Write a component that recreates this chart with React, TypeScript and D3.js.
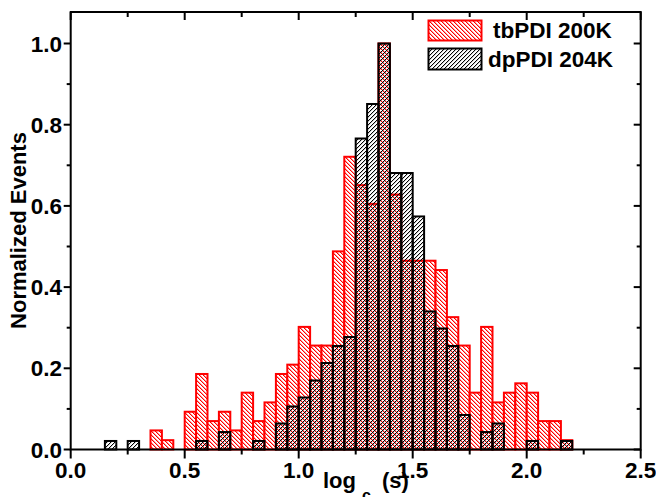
import React, { useEffect } from "react";
import * as d3 from "d3";

// Bin left edges (bin width 0.05) of log tau_c (s)
const BIN_LEFT = [
  0.15, 0.2, 0.25, 0.3, 0.35, 0.4, 0.45, 0.5, 0.55, 0.6, 0.65, 0.7, 0.75, 0.8,
  0.85, 0.9, 0.95, 1.0, 1.05, 1.1, 1.15, 1.2, 1.25, 1.3, 1.35, 1.4, 1.45, 1.5,
  1.55, 1.6, 1.65, 1.7, 1.75, 1.8, 1.85, 1.9, 1.95, 2.0, 2.05, 2.1, 2.15,
];
const BIN_WIDTH = 0.05;

// tbPDI 200K (red)
const RED_VALUES = [
  0, 0, 0, 0, 0.047, 0.023, 0, 0.093, 0.186, 0.07, 0.093, 0.047, 0.14, 0.07,
  0.116, 0.186, 0.209, 0.302, 0.256, 0.256, 0.488, 0.721, 0.651, 0.605, 1.0,
  0.628, 0.465, 0.465, 0.465, 0.442, 0.326, 0.256, 0.14, 0.302, 0.116, 0.14,
  0.163, 0.14, 0.07, 0.07, 0.023,
];
// dpPDI 204K (black)
const BLACK_VALUES = [
  0.021, 0, 0.021, 0, 0, 0, 0, 0, 0.021, 0, 0.043, 0, 0, 0.021, 0, 0.064,
  0.106, 0.128, 0.17, 0.213, 0.255, 0.277, 0.766, 0.851, 1.0, 0.681, 0.681,
  0.574, 0.34, 0.298, 0.255, 0.085, 0, 0.043, 0.064, 0, 0, 0.021, 0, 0, 0.021,
];

const SERIES_NAMES = ["tbPDI 200K", "dpPDI 204K"];
const X_TICKS = [0, 0.5, 1.0, 1.5, 2.0, 2.5];
const X_MINOR = [0.25, 0.75, 1.25, 1.75, 2.25];
const Y_TICKS = [0, 0.2, 0.4, 0.6, 0.8, 1.0];
const Y_MINOR = [0.1, 0.3, 0.5, 0.7, 0.9];

const W = 656;
const H = 497;
const FONT = "'Liberation Sans', Arial, Helvetica, sans-serif";

// pixel cells of a 4x4 hatch tile
const TILE = [0, 1, 2, 3];

export default function App() {
  useEffect(() => {
    document.body.style.margin = "0";
  }, []);

  const x = d3.scaleLinear().domain([0, 2.5]).range([70.7, 640.7]);
  const y = d3.scaleLinear().domain([0, 1]).range([449.5, 43.5]);
  const yTop = y.invert(12);
  const left = x(0);
  const right = x(2.5);
  const top = y(yTop);
  const bottom = y(0);

  const bars = (vals: number[], fill: string, stroke: string) =>
    BIN_LEFT.map((b, i) => {
      const v = vals[i];
      if (!v) return null;
      const x0 = x(b);
      const x1 = x(b + BIN_WIDTH);
      return (
        <rect
          key={i}
          x={x0}
          y={y(v)}
          width={x1 - x0}
          height={y(0) - y(v)}
          fill={fill}
          stroke={stroke}
          strokeWidth={2}
        />
      );
    });

  const fmt = d3.format(".1f");

  // "\" stripes: (col - row) mod 4; "/" stripes: (col + row) mod 4
  const cells = (backslash: boolean, color: string, soft: number) =>
    TILE.flatMap((r) =>
      TILE.map((c) => {
        const k = backslash ? (((c - r) % 4) + 4) % 4 : (c + r) % 4;
        if (k > 1) return null;
        return (
          <rect
            key={r + "-" + c}
            x={c}
            y={r}
            width={1}
            height={1}
            fill={color}
            fillOpacity={k === 0 ? 1 : soft}
          />
        );
      })
    );

  return (
    <svg
      width={W}
      height={H}
      style={{ display: "block", position: "absolute", left: 0, top: 0 }}
      fontFamily={FONT}
    >
      <defs>
        <pattern id="hatchRed" patternUnits="userSpaceOnUse" x={0} y={0} width={4} height={4}>
          <rect width={4} height={4} fill="#fff" />
          <g shapeRendering="crispEdges">{cells(true, "#ff0000", 0.4)}</g>
        </pattern>
        <pattern id="hatchBlack" patternUnits="userSpaceOnUse" x={0} y={0} width={4} height={4}>
          <g shapeRendering="crispEdges">{cells(false, "#000", 0.2)}</g>
        </pattern>
      </defs>
      <rect x={0} y={0} width={W} height={H} fill="#fff" />

      <g>{bars(RED_VALUES, "url(#hatchRed)", "#ff0000")}</g>
      <g>{bars(BLACK_VALUES, "url(#hatchBlack)", "#000")}</g>

      {/* frame */}
      <rect
        x={left}
        y={top}
        width={right - left}
        height={bottom - top}
        fill="none"
        stroke="#000"
        strokeWidth={2}
      />

      {/* bottom axis ticks (out) and top axis ticks (in) */}
      {X_TICKS.map((t) => (
        <g key={"xt" + t}>
          <line x1={x(t)} x2={x(t)} y1={bottom} y2={bottom + 9} stroke="#000" strokeWidth={2} />
          <line x1={x(t)} x2={x(t)} y1={top} y2={top + 8} stroke="#000" strokeWidth={2} />
          <text x={x(t)} y={478} textAnchor="middle" fontSize={22.5} fontWeight="bold">
            {fmt(t)}
          </text>
        </g>
      ))}
      {X_MINOR.map((t) => (
        <g key={"xm" + t}>
          <line x1={x(t)} x2={x(t)} y1={bottom} y2={bottom + 5} stroke="#000" strokeWidth={2} />
          <line x1={x(t)} x2={x(t)} y1={top} y2={top + 5} stroke="#000" strokeWidth={2} />
        </g>
      ))}

      {/* left axis ticks (out) and right axis ticks (in) */}
      {Y_TICKS.map((t) => (
        <g key={"yt" + t}>
          <line x1={left - 7} x2={left} y1={y(t)} y2={y(t)} stroke="#000" strokeWidth={2} />
          <line x1={right - 7} x2={right} y1={y(t)} y2={y(t)} stroke="#000" strokeWidth={2} />
          <text x={62} y={y(t) + 8} textAnchor="end" fontSize={22.5} fontWeight="bold">
            {fmt(t)}
          </text>
        </g>
      ))}
      {Y_MINOR.map((t) => (
        <g key={"ym" + t}>
          <line x1={left - 4} x2={left} y1={y(t)} y2={y(t)} stroke="#000" strokeWidth={2} />
          <line x1={right - 4} x2={right} y1={y(t)} y2={y(t)} stroke="#000" strokeWidth={2} />
        </g>
      ))}

      {/* axis titles */}
      <text
        transform={`translate(26, ${(133 + 328) / 2}) rotate(-90)`}
        textAnchor="middle"
        fontSize={22}
        fontWeight="bold"
      >
        Normalized Events
      </text>
      <text x={323} y={488} fontSize={22} fontWeight="bold">
        log
      </text>
      <text x={362} y={501} fontSize={16} fontWeight="bold">
        c
      </text>
      <text x={382} y={488} fontSize={22} fontWeight="bold">
        (s)
      </text>

      {/* legend */}
      <rect x={428.5} y={20.5} width={53} height={20} fill="url(#hatchRed)" stroke="#ff0000" strokeWidth={2} />
      <text x={493} y={38} fontSize={22.5} fontWeight="bold">
        {SERIES_NAMES[0]}
      </text>
      <rect x={428.5} y={48.5} width={53} height={21} fill="url(#hatchBlack)" stroke="#000" strokeWidth={2} />
      <text x={488} y={67} fontSize={22.5} fontWeight="bold">
        {SERIES_NAMES[1]}
      </text>
    </svg>
  );
}
